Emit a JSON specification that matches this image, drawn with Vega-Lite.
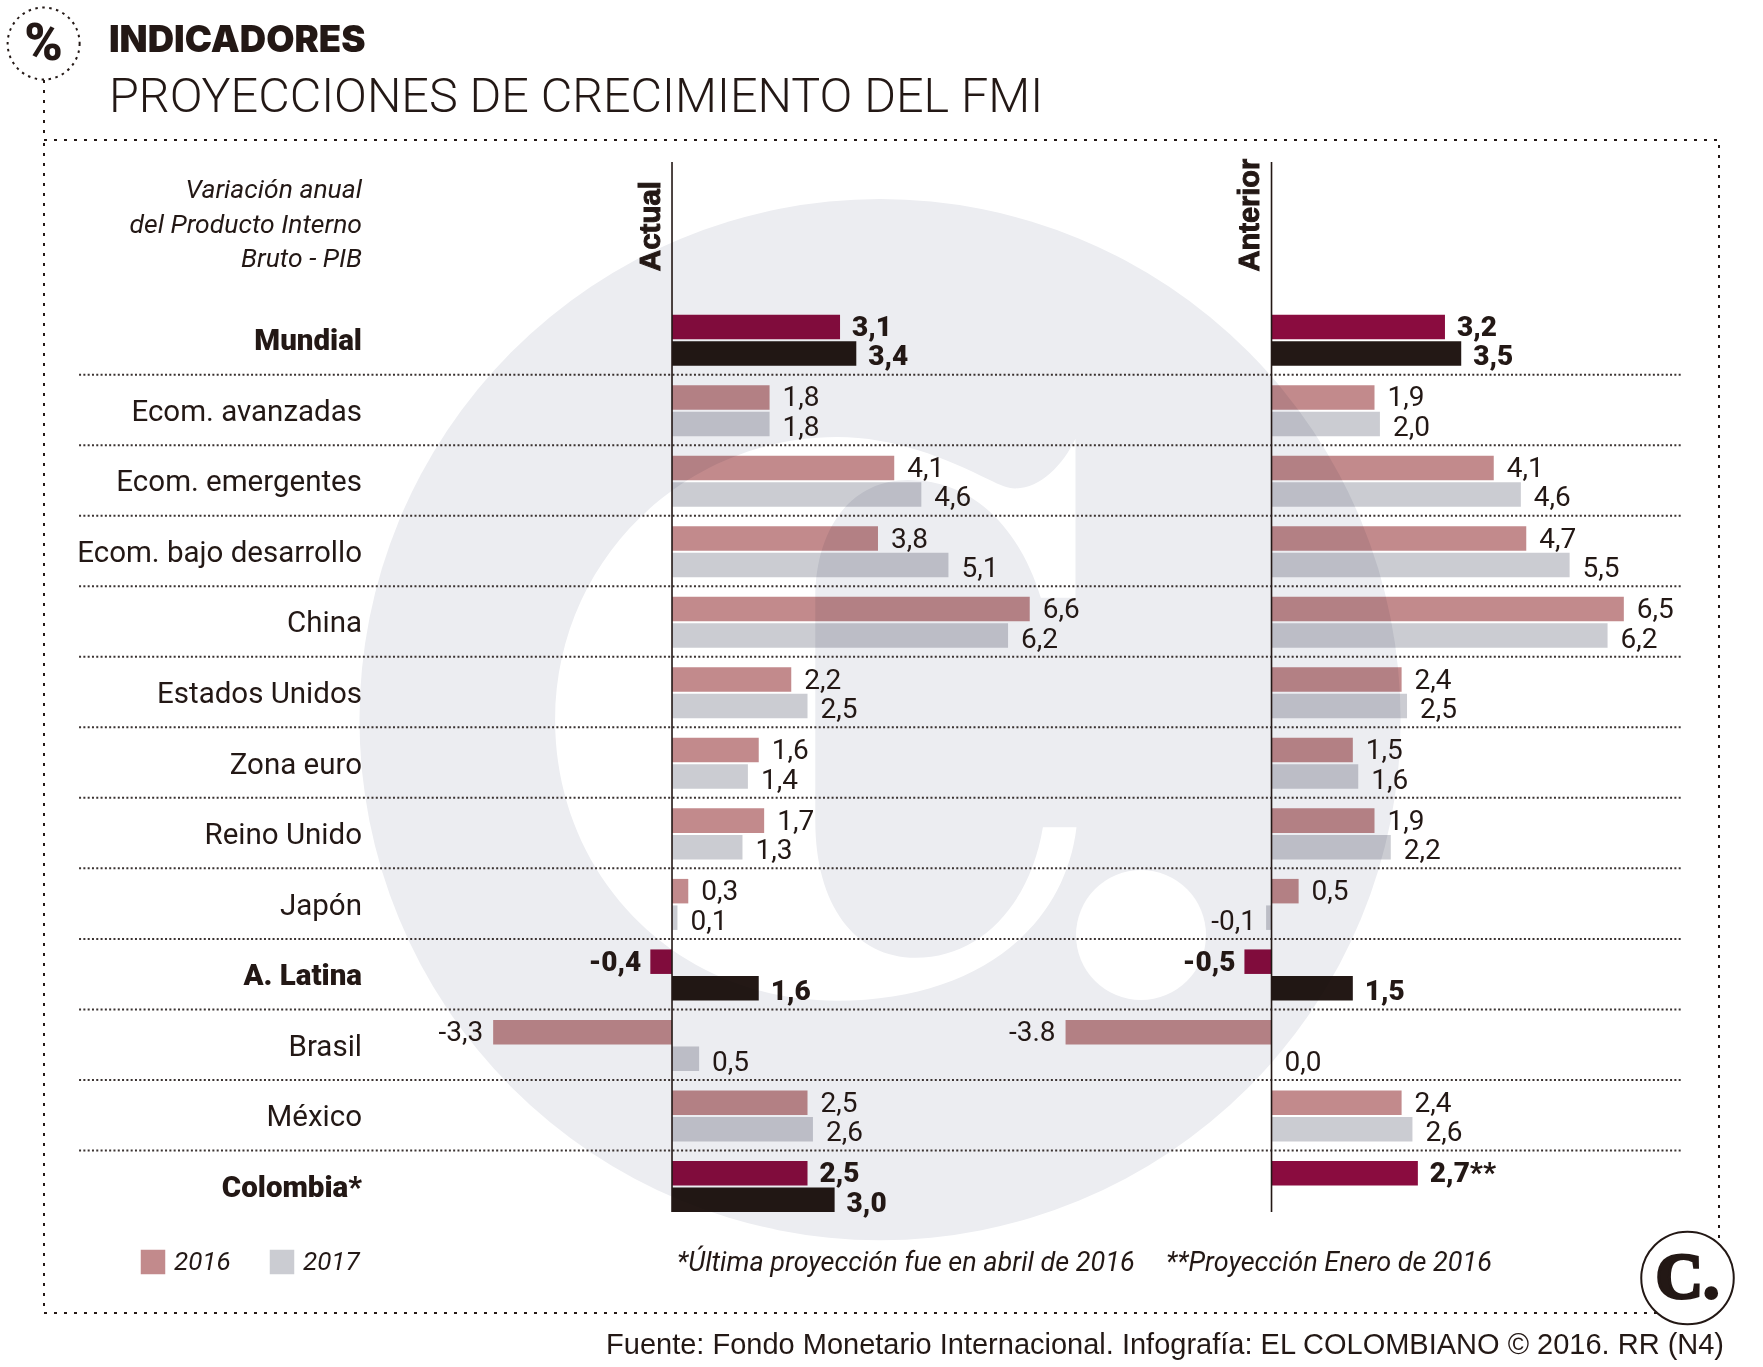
{
  "$schema": "https://vega.github.io/schema/vega-lite/v6.json",
  "description": "Proyecciones de crecimiento del FMI: variacion anual del PIB, actual y anterior",
  "width": 1675,
  "height": 1173,
  "autosize": {"type": "none"},
  "padding": {"left": 44, "top": 140, "right": 44, "bottom": 54},
  "background": "white",
  "view": {"stroke": "#231815", "strokeWidth": 2, "strokeDash": [3, 7]},
  "title": {
    "text": "INDICADORES",
    "subtitle": "PROYECCIONES DE CRECIMIENTO DEL FMI",
    "anchor": "start",
    "frame": "group",
    "dx": 65,
    "offset": -118,
    "font": "Inter",
    "fontSize": 36.5,
    "fontWeight": 900,
    "color": "#231815",
    "subtitleFont": "Roboto",
    "subtitleFontSize": 48.5,
    "subtitleFontWeight": 300,
    "subtitleColor": "#231815",
    "subtitlePadding": 15
  },
  "datasets": {
    "filas": [
      {"pais": "Mundial", "panel": "Actual", "anio": "2016", "serie": "2016 destacado", "valor": 3.1, "etiqueta": "3,1"},
      {"pais": "Mundial", "panel": "Actual", "anio": "2017", "serie": "2017 destacado", "valor": 3.4, "etiqueta": "3,4"},
      {"pais": "Ecom. avanzadas", "panel": "Actual", "anio": "2016", "serie": "2016", "valor": 1.8, "etiqueta": "1,8"},
      {"pais": "Ecom. avanzadas", "panel": "Actual", "anio": "2017", "serie": "2017", "valor": 1.8, "etiqueta": "1,8"},
      {"pais": "Ecom. emergentes", "panel": "Actual", "anio": "2016", "serie": "2016", "valor": 4.1, "etiqueta": "4,1"},
      {"pais": "Ecom. emergentes", "panel": "Actual", "anio": "2017", "serie": "2017", "valor": 4.6, "etiqueta": "4,6"},
      {"pais": "Ecom. bajo desarrollo", "panel": "Actual", "anio": "2016", "serie": "2016", "valor": 3.8, "etiqueta": "3,8"},
      {"pais": "Ecom. bajo desarrollo", "panel": "Actual", "anio": "2017", "serie": "2017", "valor": 5.1, "etiqueta": "5,1"},
      {"pais": "China", "panel": "Actual", "anio": "2016", "serie": "2016", "valor": 6.6, "etiqueta": "6,6"},
      {"pais": "China", "panel": "Actual", "anio": "2017", "serie": "2017", "valor": 6.2, "etiqueta": "6,2"},
      {"pais": "Estados Unidos", "panel": "Actual", "anio": "2016", "serie": "2016", "valor": 2.2, "etiqueta": "2,2"},
      {"pais": "Estados Unidos", "panel": "Actual", "anio": "2017", "serie": "2017", "valor": 2.5, "etiqueta": "2,5"},
      {"pais": "Zona euro", "panel": "Actual", "anio": "2016", "serie": "2016", "valor": 1.6, "etiqueta": "1,6"},
      {"pais": "Zona euro", "panel": "Actual", "anio": "2017", "serie": "2017", "valor": 1.4, "etiqueta": "1,4"},
      {"pais": "Reino Unido", "panel": "Actual", "anio": "2016", "serie": "2016", "valor": 1.7, "etiqueta": "1,7"},
      {"pais": "Reino Unido", "panel": "Actual", "anio": "2017", "serie": "2017", "valor": 1.3, "etiqueta": "1,3"},
      {"pais": "Japón", "panel": "Actual", "anio": "2016", "serie": "2016", "valor": 0.3, "etiqueta": "0,3"},
      {"pais": "Japón", "panel": "Actual", "anio": "2017", "serie": "2017", "valor": 0.1, "etiqueta": "0,1"},
      {"pais": "A. Latina", "panel": "Actual", "anio": "2016", "serie": "2016 destacado", "valor": -0.4, "etiqueta": "-0,4"},
      {"pais": "A. Latina", "panel": "Actual", "anio": "2017", "serie": "2017 destacado", "valor": 1.6, "etiqueta": "1,6"},
      {"pais": "Brasil", "panel": "Actual", "anio": "2016", "serie": "2016", "valor": -3.3, "etiqueta": "-3,3"},
      {"pais": "Brasil", "panel": "Actual", "anio": "2017", "serie": "2017", "valor": 0.5, "etiqueta": "0,5"},
      {"pais": "México", "panel": "Actual", "anio": "2016", "serie": "2016", "valor": 2.5, "etiqueta": "2,5"},
      {"pais": "México", "panel": "Actual", "anio": "2017", "serie": "2017", "valor": 2.6, "etiqueta": "2,6"},
      {"pais": "Colombia*", "panel": "Actual", "anio": "2016", "serie": "2016 destacado", "valor": 2.5, "etiqueta": "2,5"},
      {"pais": "Colombia*", "panel": "Actual", "anio": "2017", "serie": "2017 destacado", "valor": 3.0, "etiqueta": "3,0"},
      {"pais": "Mundial", "panel": "Anterior", "anio": "2016", "serie": "2016 destacado", "valor": 3.2, "etiqueta": "3,2"},
      {"pais": "Mundial", "panel": "Anterior", "anio": "2017", "serie": "2017 destacado", "valor": 3.5, "etiqueta": "3,5"},
      {"pais": "Ecom. avanzadas", "panel": "Anterior", "anio": "2016", "serie": "2016", "valor": 1.9, "etiqueta": "1,9"},
      {"pais": "Ecom. avanzadas", "panel": "Anterior", "anio": "2017", "serie": "2017", "valor": 2.0, "etiqueta": "2,0"},
      {"pais": "Ecom. emergentes", "panel": "Anterior", "anio": "2016", "serie": "2016", "valor": 4.1, "etiqueta": "4,1"},
      {"pais": "Ecom. emergentes", "panel": "Anterior", "anio": "2017", "serie": "2017", "valor": 4.6, "etiqueta": "4,6"},
      {"pais": "Ecom. bajo desarrollo", "panel": "Anterior", "anio": "2016", "serie": "2016", "valor": 4.7, "etiqueta": "4,7"},
      {"pais": "Ecom. bajo desarrollo", "panel": "Anterior", "anio": "2017", "serie": "2017", "valor": 5.5, "etiqueta": "5,5"},
      {"pais": "China", "panel": "Anterior", "anio": "2016", "serie": "2016", "valor": 6.5, "etiqueta": "6,5"},
      {"pais": "China", "panel": "Anterior", "anio": "2017", "serie": "2017", "valor": 6.2, "etiqueta": "6,2"},
      {"pais": "Estados Unidos", "panel": "Anterior", "anio": "2016", "serie": "2016", "valor": 2.4, "etiqueta": "2,4"},
      {"pais": "Estados Unidos", "panel": "Anterior", "anio": "2017", "serie": "2017", "valor": 2.5, "etiqueta": "2,5"},
      {"pais": "Zona euro", "panel": "Anterior", "anio": "2016", "serie": "2016", "valor": 1.5, "etiqueta": "1,5"},
      {"pais": "Zona euro", "panel": "Anterior", "anio": "2017", "serie": "2017", "valor": 1.6, "etiqueta": "1,6"},
      {"pais": "Reino Unido", "panel": "Anterior", "anio": "2016", "serie": "2016", "valor": 1.9, "etiqueta": "1,9"},
      {"pais": "Reino Unido", "panel": "Anterior", "anio": "2017", "serie": "2017", "valor": 2.2, "etiqueta": "2,2"},
      {"pais": "Japón", "panel": "Anterior", "anio": "2016", "serie": "2016", "valor": 0.5, "etiqueta": "0,5"},
      {"pais": "Japón", "panel": "Anterior", "anio": "2017", "serie": "2017", "valor": -0.1, "etiqueta": "-0,1"},
      {"pais": "A. Latina", "panel": "Anterior", "anio": "2016", "serie": "2016 destacado", "valor": -0.5, "etiqueta": "-0,5"},
      {"pais": "A. Latina", "panel": "Anterior", "anio": "2017", "serie": "2017 destacado", "valor": 1.5, "etiqueta": "1,5"},
      {"pais": "Brasil", "panel": "Anterior", "anio": "2016", "serie": "2016", "valor": -3.8, "etiqueta": "-3.8"},
      {"pais": "Brasil", "panel": "Anterior", "anio": "2017", "serie": "2017", "valor": 0.0, "etiqueta": "0,0"},
      {"pais": "México", "panel": "Anterior", "anio": "2016", "serie": "2016", "valor": 2.4, "etiqueta": "2,4"},
      {"pais": "México", "panel": "Anterior", "anio": "2017", "serie": "2017", "valor": 2.6, "etiqueta": "2,6"},
      {"pais": "Colombia*", "panel": "Anterior", "anio": "2016", "serie": "2016 destacado", "valor": 2.7, "etiqueta": "2,7**"}
    ],
    "paises": [
      {"pais": "Mundial", "destacado": true},
      {"pais": "Ecom. avanzadas", "destacado": false},
      {"pais": "Ecom. emergentes", "destacado": false},
      {"pais": "Ecom. bajo desarrollo", "destacado": false},
      {"pais": "China", "destacado": false},
      {"pais": "Estados Unidos", "destacado": false},
      {"pais": "Zona euro", "destacado": false},
      {"pais": "Reino Unido", "destacado": false},
      {"pais": "Japón", "destacado": false},
      {"pais": "A. Latina", "destacado": true},
      {"pais": "Brasil", "destacado": false},
      {"pais": "México", "destacado": false},
      {"pais": "Colombia*", "destacado": true}
    ],
    "separadores": [
      {"fila": 1}, {"fila": 2}, {"fila": 3}, {"fila": 4}, {"fila": 5}, {"fila": 6},
      {"fila": 7}, {"fila": 8}, {"fila": 9}, {"fila": 10}, {"fila": 11}, {"fila": 12}
    ]
  },
  "resolve": {"scale": {"x": "independent", "y": "independent"}},
  "layer": [
    {
      "layer": [
        {
          "data": {"values": [{"marca": "fondo"}]},
          "mark": {"type": "point", "shape": "circle", "filled": true, "fill": "#ecedf1", "opacity": 1, "strokeWidth": 0, "size": 1083900},
          "encoding": {
            "x": {"datum": 3.838, "type": "quantitative", "axis": null, "scale": {"domain": [-11.587, 19.317], "nice": false, "zero": false}},
            "y": {"datum": 5.891, "type": "quantitative", "axis": null, "scale": {"domain": [-2.327, 14.304], "reverse": true, "nice": false, "zero": false}}
          }
        },
        {
          "data": {"values": [{"marca": "letra"}]},
          "mark": {
            "type": "point",
            "shape": "M260.5 -281.3 L260.5 -122.2 L225.8 -122.2 C205 -190 160 -240 93.2 -240 C35 -240 0.3 -190 0.3 -122.2 L0.3 100.9 C0.3 185 40 237.7 100.8 237.7 C165 237.7 215 185 227.9 107.2 L261.5 107.2 C250 205 165 280.6 21.7 280.6 C-140 280.6 -259.9 155 -259.9 0 C-259.9 -160 -130 -283 21.7 -283 C80 -283 130 -262 174.8 -240 C185 -235 192 -231.6 200.3 -231.6 C225 -231.6 248 -255 260.5 -281.3 Z",
            "filled": true, "fill": "white", "opacity": 1, "strokeWidth": 0, "size": 4
          },
          "encoding": {
            "x": {"datum": 2.638, "type": "quantitative", "axis": null, "scale": {"domain": [-11.587, 19.317], "nice": false, "zero": false}},
            "y": {"datum": 5.897, "type": "quantitative", "axis": null, "scale": {"domain": [-2.327, 14.304], "reverse": true, "nice": false, "zero": false}}
          }
        },
        {
          "data": {"values": [{"marca": "punto"}]},
          "mark": {"type": "point", "shape": "circle", "filled": true, "fill": "white", "opacity": 1, "strokeWidth": 0, "size": 16900},
          "encoding": {
            "x": {"datum": 8.653, "type": "quantitative", "axis": null, "scale": {"domain": [-11.587, 19.317], "nice": false, "zero": false}},
            "y": {"datum": 8.945, "type": "quantitative", "axis": null, "scale": {"domain": [-2.327, 14.304], "reverse": true, "nice": false, "zero": false}}
          }
        },
        {
          "data": {"name": "separadores"},
          "mark": {"type": "rule", "stroke": "#3a3230", "strokeWidth": 2, "strokeDash": [2, 2.3]},
          "encoding": {
            "x": {"datum": -10.94, "type": "quantitative", "axis": null, "scale": {"domain": [-11.587, 19.317], "nice": false, "zero": false}},
            "x2": {"datum": 18.63},
            "y": {"field": "fila", "type": "quantitative", "axis": null, "scale": {"domain": [-2.327, 14.304], "reverse": true, "nice": false, "zero": false}}
          }
        },
        {
          "data": {"values": [{"marca": "conector"}]},
          "mark": {"type": "rule", "stroke": "#231815", "strokeWidth": 2, "strokeDash": [3, 7]},
          "encoding": {
            "x": {"datum": -11.587, "type": "quantitative", "axis": null, "scale": {"domain": [-11.587, 19.317], "nice": false, "zero": false}},
            "y": {"datum": -3.177, "type": "quantitative", "axis": null, "scale": {"domain": [-2.327, 14.304], "reverse": true, "nice": false, "zero": false}},
            "y2": {"datum": -2.327}
          }
        },
        {
          "data": {"values": [{"marca": "logo"}]},
          "mark": {"type": "point", "shape": "circle", "filled": true, "fill": "white", "opacity": 1, "stroke": "#231815", "strokeWidth": 2, "strokeDash": [2.5, 4.5], "size": 5184},
          "encoding": {
            "x": {"datum": -11.594, "type": "quantitative", "axis": null, "scale": {"domain": [-11.587, 19.317], "nice": false, "zero": false}},
            "y": {"datum": -3.695, "type": "quantitative", "axis": null, "scale": {"domain": [-2.327, 14.304], "reverse": true, "nice": false, "zero": false}}
          }
        },
        {
          "data": {"values": [{"texto": "%"}]},
          "mark": {"type": "text", "font": "Roboto", "fontWeight": 900, "fontSize": 52, "fill": "#231815", "align": "center", "baseline": "middle"},
          "encoding": {
            "x": {"datum": -11.594, "type": "quantitative", "axis": null, "scale": {"domain": [-11.587, 19.317], "nice": false, "zero": false}},
            "y": {"datum": -3.695, "type": "quantitative", "axis": null, "scale": {"domain": [-2.327, 14.304], "reverse": true, "nice": false, "zero": false}},
            "text": {"field": "texto"}
          }
        },
        {
          "data": {"values": [{"marca": "logo"}]},
          "mark": {"type": "point", "shape": "circle", "filled": true, "fill": "white", "opacity": 1, "stroke": "#231815", "strokeWidth": 2, "size": 8556},
          "encoding": {
            "x": {"datum": 18.736, "type": "quantitative", "axis": null, "scale": {"domain": [-11.587, 19.317], "nice": false, "zero": false}},
            "y": {"datum": 13.808, "type": "quantitative", "axis": null, "scale": {"domain": [-2.327, 14.304], "reverse": true, "nice": false, "zero": false}}
          }
        },
        {
          "data": {"values": [{"texto": "C."}]},
          "mark": {"type": "text", "font": "Liberation Serif", "fontWeight": "bold", "fontSize": 66, "fill": "#231815", "stroke": "#231815", "strokeWidth": 3, "align": "center", "baseline": "middle"},
          "encoding": {
            "x": {"datum": 18.736, "type": "quantitative", "axis": null, "scale": {"domain": [-11.587, 19.317], "nice": false, "zero": false}},
            "y": {"datum": 13.808, "type": "quantitative", "axis": null, "scale": {"domain": [-2.327, 14.304], "reverse": true, "nice": false, "zero": false}},
            "text": {"field": "texto"}
          }
        },
        {
          "data": {"values": [{"texto": ["Variación anual", "del Producto Interno", "Bruto - PIB"]}]},
          "mark": {"type": "text", "font": "Roboto", "fontStyle": "italic", "fontSize": 26.5, "lineHeight": 34.6, "fill": "#231815", "align": "right", "baseline": "middle"},
          "encoding": {
            "x": {"datum": -5.72, "type": "quantitative", "axis": null, "scale": {"domain": [-11.587, 19.317], "nice": false, "zero": false}},
            "y": {"datum": -1.618, "type": "quantitative", "axis": null, "scale": {"domain": [-2.327, 14.304], "reverse": true, "nice": false, "zero": false}},
            "text": {"field": "texto"}
          }
        },
        {
          "data": {"values": [{"texto": "*Última proyección fue en abril de 2016"}]},
          "mark": {"type": "text", "font": "Roboto", "fontStyle": "italic", "fontSize": 27, "fill": "#231815", "align": "left", "baseline": "middle"},
          "encoding": {
            "x": {"datum": 0.09, "type": "quantitative", "axis": null, "scale": {"domain": [-11.587, 19.317], "nice": false, "zero": false}},
            "y": {"datum": 13.596, "type": "quantitative", "axis": null, "scale": {"domain": [-2.327, 14.304], "reverse": true, "nice": false, "zero": false}},
            "text": {"field": "texto"}
          }
        },
        {
          "data": {"values": [{"texto": "**Proyección Enero de 2016"}]},
          "mark": {"type": "text", "font": "Roboto", "fontStyle": "italic", "fontSize": 27, "fill": "#231815", "align": "left", "baseline": "middle"},
          "encoding": {
            "x": {"datum": 9.114, "type": "quantitative", "axis": null, "scale": {"domain": [-11.587, 19.317], "nice": false, "zero": false}},
            "y": {"datum": 13.596, "type": "quantitative", "axis": null, "scale": {"domain": [-2.327, 14.304], "reverse": true, "nice": false, "zero": false}},
            "text": {"field": "texto"}
          }
        },
        {
          "data": {"values": [{"texto": "Fuente: Fondo Monetario Internacional. Infografía: EL COLOMBIANO © 2016. RR (N4)"}]},
          "mark": {"type": "text", "font": "Liberation Sans", "fontSize": 29, "fill": "#231815", "align": "right", "baseline": "middle"},
          "encoding": {
            "x": {"datum": 19.41, "type": "quantitative", "axis": null, "scale": {"domain": [-11.587, 19.317], "nice": false, "zero": false}},
            "y": {"datum": 14.758, "type": "quantitative", "axis": null, "scale": {"domain": [-2.327, 14.304], "reverse": true, "nice": false, "zero": false}},
            "text": {"field": "texto"}
          }
        }
      ]
    },
    {
      "layer": [
        {
          "data": {"name": "paises"},
          "mark": {"type": "text", "font": "Roboto", "fontSize": 29.5, "fontWeight": {"expr": "datum.destacado ? 900 : 400"}, "fill": "#231815", "align": "right", "baseline": "middle", "dy": 2},
          "encoding": {
            "x": {"datum": -5.72, "type": "quantitative", "axis": null, "scale": {"domain": [-11.587, 19.317], "nice": false, "zero": false}},
            "y": {"field": "pais", "type": "nominal", "axis": null, "sort": null, "scale": {"domain": ["Mundial", "Ecom. avanzadas", "Ecom. emergentes", "Ecom. bajo desarrollo", "China", "Estados Unidos", "Zona euro", "Reino Unido", "Japón", "A. Latina", "Brasil", "México", "Colombia*"], "range": [164.1, 1081], "paddingInner": 0, "paddingOuter": 0}},
            "text": {"field": "pais"}
          }
        },
        {
          "data": {"name": "filas"},
          "transform": [{"filter": "datum.panel === 'Actual'"}],
          "mark": {"type": "bar", "blend": "multiply"},
          "encoding": {
            "x": {"field": "valor", "type": "quantitative", "axis": null, "scale": {"domain": [-11.587, 19.317], "nice": false, "zero": false}},
            "y": {"field": "pais", "type": "nominal", "axis": null, "sort": null, "scale": {"domain": ["Mundial", "Ecom. avanzadas", "Ecom. emergentes", "Ecom. bajo desarrollo", "China", "Estados Unidos", "Zona euro", "Reino Unido", "Japón", "A. Latina", "Brasil", "México", "Colombia*"], "range": [164.1, 1081], "paddingInner": 0, "paddingOuter": 0}},
            "yOffset": {"field": "anio", "type": "nominal", "scale": {"domain": ["2016", "2017"], "range": [0.8, 71.33], "paddingInner": 0.0755, "paddingOuter": 0.368}},
            "color": {
              "field": "serie",
              "type": "nominal",
              "scale": {"domain": ["2016", "2017", "2016 destacado", "2017 destacado"], "range": ["#c28a8c", "#cbccd2", "#8a0c3f", "#231815"]},
              "legend": {"values": ["2016", "2017"], "title": null, "orient": "none", "legendX": 96, "legendY": 1109, "direction": "horizontal", "symbolType": "square", "symbolSize": 600, "symbolStrokeWidth": 0, "labelFont": "Roboto", "labelFontStyle": "italic", "labelFontSize": 26, "labelColor": "#231815", "columnPadding": 38, "labelOffset": 8}
            }
          }
        },
        {
          "data": {"name": "filas"},
          "transform": [{"filter": "datum.panel === 'Actual'"}],
          "mark": {"type": "text", "font": "Roboto", "fontSize": 28, "fontWeight": {"expr": "indexof(datum.serie, 'destacado') >= 0 ? 900 : 400"}, "fill": "#231815", "baseline": "middle", "align": {"expr": "datum.valor < 0 ? 'right' : 'left'"}, "dx": {"expr": "datum.valor < 0 ? (indexof(datum.serie, 'destacado') >= 0 ? -9 : -10) : (indexof(datum.serie, 'destacado') >= 0 ? 12 : 13)"}, "dy": {"expr": "datum.anio === '2017' ? 4 : 1"}},
          "encoding": {
            "x": {"field": "valor", "type": "quantitative", "axis": null, "scale": {"domain": [-11.587, 19.317], "nice": false, "zero": false}},
            "y": {"field": "pais", "type": "nominal", "axis": null, "sort": null, "scale": {"domain": ["Mundial", "Ecom. avanzadas", "Ecom. emergentes", "Ecom. bajo desarrollo", "China", "Estados Unidos", "Zona euro", "Reino Unido", "Japón", "A. Latina", "Brasil", "México", "Colombia*"], "range": [164.1, 1081], "paddingInner": 0, "paddingOuter": 0}},
            "yOffset": {"field": "anio", "type": "nominal", "scale": {"domain": ["2016", "2017"], "range": [0.8, 71.33], "paddingInner": 0.0755, "paddingOuter": 0.368}},
            "text": {"field": "etiqueta"}
          }
        }
      ]
    },
    {
      "layer": [
        {
          "data": {"name": "filas"},
          "transform": [{"filter": "datum.panel === 'Anterior'"}],
          "mark": {"type": "bar", "blend": "multiply"},
          "encoding": {
            "x": {"field": "valor", "type": "quantitative", "axis": null, "scale": {"domain": [-22.648, 8.256], "nice": false, "zero": false}},
            "y": {"field": "pais", "type": "nominal", "axis": null, "sort": null, "scale": {"domain": ["Mundial", "Ecom. avanzadas", "Ecom. emergentes", "Ecom. bajo desarrollo", "China", "Estados Unidos", "Zona euro", "Reino Unido", "Japón", "A. Latina", "Brasil", "México", "Colombia*"], "range": [164.1, 1081], "paddingInner": 0, "paddingOuter": 0}},
            "yOffset": {"field": "anio", "type": "nominal", "scale": {"domain": ["2016", "2017"], "range": [0.8, 71.33], "paddingInner": 0.0755, "paddingOuter": 0.368}},
            "color": {"field": "serie", "type": "nominal"}
          }
        },
        {
          "data": {"name": "filas"},
          "transform": [{"filter": "datum.panel === 'Anterior'"}],
          "mark": {"type": "text", "font": "Roboto", "fontSize": 28, "fontWeight": {"expr": "indexof(datum.serie, 'destacado') >= 0 ? 900 : 400"}, "fill": "#231815", "baseline": "middle", "align": {"expr": "datum.valor < 0 ? 'right' : 'left'"}, "dx": {"expr": "datum.valor < 0 ? (indexof(datum.serie, 'destacado') >= 0 ? -9 : -10) : (indexof(datum.serie, 'destacado') >= 0 ? 12 : 13)"}, "dy": {"expr": "datum.anio === '2017' ? 4 : 1"}},
          "encoding": {
            "x": {"field": "valor", "type": "quantitative", "axis": null, "scale": {"domain": [-22.648, 8.256], "nice": false, "zero": false}},
            "y": {"field": "pais", "type": "nominal", "axis": null, "sort": null, "scale": {"domain": ["Mundial", "Ecom. avanzadas", "Ecom. emergentes", "Ecom. bajo desarrollo", "China", "Estados Unidos", "Zona euro", "Reino Unido", "Japón", "A. Latina", "Brasil", "México", "Colombia*"], "range": [164.1, 1081], "paddingInner": 0, "paddingOuter": 0}},
            "yOffset": {"field": "anio", "type": "nominal", "scale": {"domain": ["2016", "2017"], "range": [0.8, 71.33], "paddingInner": 0.0755, "paddingOuter": 0.368}},
            "text": {"field": "etiqueta"}
          }
        }
      ]
    },
    {
      "layer": [
        {
          "data": {"values": [{"marca": "eje"}]},
          "mark": {"type": "rule", "stroke": "#231815", "strokeWidth": 1.6},
          "encoding": {
            "x": {"datum": 0, "type": "quantitative", "axis": null, "scale": {"domain": [-11.587, 19.317], "nice": false, "zero": false}},
            "y": {"datum": -2.015, "type": "quantitative", "axis": null, "scale": {"domain": [-2.327, 14.304], "reverse": true, "nice": false, "zero": false}},
            "y2": {"datum": 12.873}
          }
        },
        {
          "data": {"values": [{"texto": "Actual"}]},
          "mark": {"type": "text", "font": "Liberation Sans", "fontWeight": "bold", "fontSize": 29.5, "angle": 270, "fill": "#231815", "stroke": "#231815", "strokeWidth": 1, "align": "center", "baseline": "middle"},
          "encoding": {
            "x": {"datum": -0.39, "type": "quantitative", "axis": null, "scale": {"domain": [-11.587, 19.317], "nice": false, "zero": false}},
            "y": {"datum": -1.107, "type": "quantitative", "axis": null, "scale": {"domain": [-2.327, 14.304], "reverse": true, "nice": false, "zero": false}},
            "text": {"field": "texto"}
          }
        }
      ]
    },
    {
      "layer": [
        {
          "data": {"values": [{"marca": "eje"}]},
          "mark": {"type": "rule", "stroke": "#231815", "strokeWidth": 1.6},
          "encoding": {
            "x": {"datum": 0, "type": "quantitative", "axis": null, "scale": {"domain": [-22.648, 8.256], "nice": false, "zero": false}},
            "y": {"datum": -2.015, "type": "quantitative", "axis": null, "scale": {"domain": [-2.327, 14.304], "reverse": true, "nice": false, "zero": false}},
            "y2": {"datum": 12.873}
          }
        },
        {
          "data": {"values": [{"texto": "Anterior"}]},
          "mark": {"type": "text", "font": "Liberation Sans", "fontWeight": "bold", "fontSize": 29, "angle": 270, "fill": "#231815", "stroke": "#231815", "strokeWidth": 1, "align": "center", "baseline": "middle"},
          "encoding": {
            "x": {"datum": -0.4, "type": "quantitative", "axis": null, "scale": {"domain": [-22.648, 8.256], "nice": false, "zero": false}},
            "y": {"datum": -1.263, "type": "quantitative", "axis": null, "scale": {"domain": [-2.327, 14.304], "reverse": true, "nice": false, "zero": false}},
            "text": {"field": "texto"}
          }
        }
      ]
    }
  ]
}
